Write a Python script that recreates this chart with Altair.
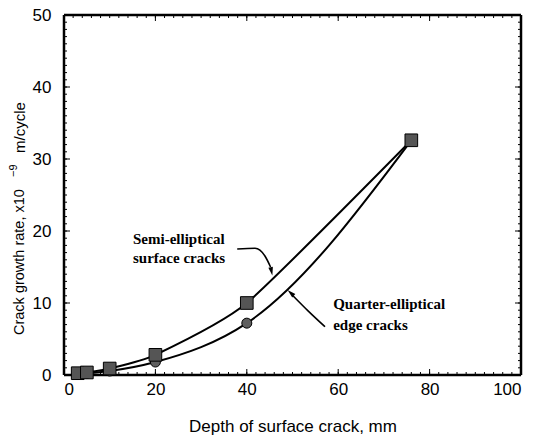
import altair as alt
import pandas as pd

# ---- data ----
depth = [3, 5, 10, 20, 40, 76]
semi_rate = [0.25, 0.35, 0.9, 2.8, 10.0, 32.6]
quarter_rate = [0.1, 0.2, 0.55, 1.8, 7.2, 32.6]

x_ticks_minor = list(range(0, 101, 2))
x_ticks_major = list(range(0, 101, 20))
y_ticks_minor = list(range(0, 51, 1))
y_ticks_major = list(range(0, 51, 10))

semi_label = ["Semi-elliptical", "surface cracks"]
semi_label_x = [15.1, 15.1]
semi_label_y = [18.9, 16.3]
quarter_label = ["Quarter-elliptical", "edge cracks"]
quarter_label_x = [58.9, 58.9]
quarter_label_y = [9.8, 7.0]

semi_arrow_x = [37.9, 41.8, 44.0, 45.2]
semi_arrow_y = [17.5, 17.6, 16.5, 15.0]
semi_head = (45.4, 14.4, 168)
quarter_arrow_x = [50.1, 53.4, 57.1]
quarter_arrow_y = [11.0, 8.9, 6.7]
quarter_head = (49.6, 11.4, 312)

W, H = 457, 360
xs = alt.Scale(domain=[0, 100], nice=False, zero=False)
ys = alt.Scale(domain=[0, 50], nice=False, zero=False)

df = pd.DataFrame({"depth": depth, "semi": semi_rate, "quarter": quarter_rate})

xaxis = alt.Axis(values=x_ticks_major, ticks=False, domain=False, grid=False,
                 labelFontSize=17, labelFont="Liberation Sans", labelColor="black",
                 labelPadding=6, title="Depth of surface crack, mm",
                 titleFont="Liberation Sans", titleFontSize=17, titleFontWeight="normal",
                 titleColor="black", titlePadding=21)
yaxis = alt.Axis(values=y_ticks_major, ticks=False, domain=False, grid=False,
                 labelFontSize=17, labelFont="Liberation Sans", labelColor="black",
                 labelPadding=13, title=None)

base = alt.Chart(df)
semi_line = base.mark_line(color="black", strokeWidth=2, interpolate="cardinal", tension=0.45).encode(
    x=alt.X("depth:Q", scale=xs, axis=xaxis), y=alt.Y("semi:Q", scale=ys, axis=yaxis))
quarter_line = base.mark_line(color="black", strokeWidth=2, interpolate="monotone").encode(
    x=alt.X("depth:Q", scale=xs), y=alt.Y("quarter:Q", scale=ys))
quarter_pts = base.mark_point(shape="circle", filled=True, fill="#5e5e5e", stroke="black",
                              strokeWidth=1, size=100, opacity=1).encode(
    x=alt.X("depth:Q", scale=xs), y=alt.Y("quarter:Q", scale=ys))
semi_pts = base.mark_point(shape="square", filled=True, fill="#555555", stroke="black",
                           strokeWidth=1, size=160, opacity=1).encode(
    x=alt.X("depth:Q", scale=xs), y=alt.Y("semi:Q", scale=ys))

# inward ticks
def xticks(vals, length):
    d = pd.DataFrame({"t": vals})
    bottom = alt.Chart(d).mark_rule(color="black", strokeWidth=1).encode(
        x=alt.X("t:Q", scale=xs), y=alt.value(H), y2=alt.value(H - length))
    top = alt.Chart(d).mark_rule(color="black", strokeWidth=1).encode(
        x=alt.X("t:Q", scale=xs), y=alt.value(0), y2=alt.value(length))
    return [bottom, top]

def yticks(vals, length):
    d = pd.DataFrame({"t": vals})
    left = alt.Chart(d).mark_rule(color="black", strokeWidth=1).encode(
        y=alt.Y("t:Q", scale=ys), x=alt.value(0), x2=alt.value(length))
    right = alt.Chart(d).mark_rule(color="black", strokeWidth=1).encode(
        y=alt.Y("t:Q", scale=ys), x=alt.value(W), x2=alt.value(W - length))
    return [left, right]

tick_layers = xticks(x_ticks_minor, 3) + xticks(x_ticks_major, 6) + yticks(y_ticks_minor, 3) + yticks(y_ticks_major, 6)

# frame
fr = alt.Chart(pd.DataFrame({"a": [0]}))
frame = [
    fr.mark_rule(color="black", strokeWidth=2.5).encode(x=alt.value(0), x2=alt.value(W), y=alt.value(0)),
    fr.mark_rule(color="black", strokeWidth=2.5).encode(x=alt.value(0), x2=alt.value(W), y=alt.value(H)),
    fr.mark_rule(color="black", strokeWidth=2.5).encode(y=alt.value(0), y2=alt.value(H), x=alt.value(0)),
    fr.mark_rule(color="black", strokeWidth=2.5).encode(y=alt.value(0), y2=alt.value(H), x=alt.value(W)),
]

# annotations
def label_layer(texts, xv, yv):
    d = pd.DataFrame({"text": texts, "x": xv, "y": yv})
    return alt.Chart(d).mark_text(font="Liberation Serif", fontWeight="bold", fontSize=15,
                                  align="left", baseline="middle", color="black").encode(
        x=alt.X("x:Q", scale=xs), y=alt.Y("y:Q", scale=ys), text="text:N")

def arrow_shaft(xv, yv):
    d = pd.DataFrame({"x": xv, "y": yv, "o": list(range(len(xv)))})
    return alt.Chart(d).mark_line(color="black", strokeWidth=1.6, interpolate="monotone").encode(
        x=alt.X("x:Q", scale=xs), y=alt.Y("y:Q", scale=ys), order="o:Q")

def arrow_head(h):
    d = pd.DataFrame({"x": [h[0]], "y": [h[1]], "a": [h[2]]})
    return alt.Chart(d).mark_point(shape="M0,-1L0.55,1L-0.55,1Z", filled=True, color="black",
                                   size=70, opacity=1).encode(
        x=alt.X("x:Q", scale=xs), y=alt.Y("y:Q", scale=ys), angle=alt.Angle("a:Q", scale=None))

# rotated y-axis title with superscript
yt = alt.Chart(pd.DataFrame({"a": [0]}))
ytitle1 = yt.mark_text(text="Crack growth rate, x10", angle=270, align="left", baseline="middle",
                       font="Liberation Sans", fontSize=14.5, color="black").encode(
    x=alt.value(-44), y=alt.value(320))
ytitle2 = yt.mark_text(text="−9", angle=270, align="left", baseline="middle",
                       font="Liberation Sans", fontSize=11, color="black").encode(
    x=alt.value(-50), y=alt.value(162))
ytitle3 = yt.mark_text(text="m/cycle", angle=270, align="left", baseline="middle",
                       font="Liberation Sans", fontSize=15, color="black").encode(
    x=alt.value(-44), y=alt.value(138))

chart = alt.layer(
    semi_line, quarter_line, *tick_layers, *frame,
    arrow_shaft(semi_arrow_x, semi_arrow_y), arrow_head(semi_head),
    arrow_shaft(quarter_arrow_x, quarter_arrow_y), arrow_head(quarter_head),
    label_layer(semi_label, semi_label_x, semi_label_y),
    label_layer(quarter_label, quarter_label_x, quarter_label_y),
    quarter_pts, semi_pts, ytitle1, ytitle2, ytitle3,
).properties(
    width=W, height=H,
    autosize=alt.AutoSizeParams(type="none"),
    padding={"left": 64, "top": 15, "right": 14, "bottom": 66},
).configure_view(stroke=None).configure(background="white")

chart.save("out.html", embed_options={"renderer": "svg", "actions": False})
